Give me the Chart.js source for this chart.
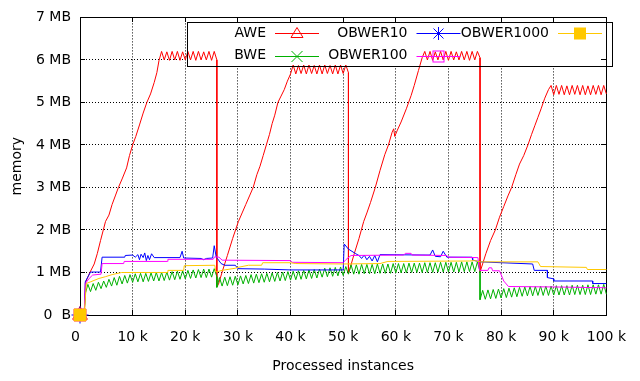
<!DOCTYPE html>
<html>
<head>
<meta charset="utf-8">
<script src="https://cdn.jsdelivr.net/npm/chart.js@4.4.0/dist/chart.umd.min.js"></script>
<style>
  html, body { margin: 0; padding: 0; background: #fff; }
</style>
</head>
<body>
<canvas id="myChart" width="640" height="381"></canvas>
<script>
// x in thousands of processed instances, y in MB
const seriesNames = ["AWE", "BWE", "OBWER10", "OBWER100", "OBWER1000"];
const xTicks = [0, 10, 20, 30, 40, 50, 60, 70, 80, 90, 100];
const yTicks = [0, 1, 2, 3, 4, 5, 6, 7];

const awe = [
  [0,0],[0.8,0],[1.1,0.78],[1.8,0.98],[2.7,1.2],[3.3,1.45],[3.9,1.75],[4.85,2.2],[5.5,2.35],[6.1,2.6],[6.7,2.8],[7.3,3.0],
  [8,3.2],[8.85,3.46],[9.4,3.75],[10,4.0],[10.6,4.2],[11.3,4.47],[12,4.75],[12.7,5.0],[13.4,5.2],[14.1,5.47],[14.6,5.7],[15,5.98],
  [15.5,6.2],[16,6.0],[16.5,6.19],[17,5.99],[17.5,6.2],[18,6.0],[18.5,6.2],[19,5.99],[19.5,6.19],[20,6.0],[20.5,6.2],[21,6.0],
  [21.5,6.2],[22,5.99],[22.5,6.2],[23,6.0],[23.5,6.19],[24,6.0],[24.5,6.2],[25,5.99],[25.5,6.2],[26,6.0],
  [26,0.66],[26.3,0.72],[27.1,1.05],[28,1.4],[29,1.8],[30.1,2.2],[30.8,2.4],[31.5,2.6],[32.2,2.8],[32.9,3.0],[33.6,3.3],[34.2,3.5],
  [34.8,3.75],[35.4,4.0],[36,4.25],[36.5,4.5],[37,4.7],[37.6,5.0],[38.2,5.15],[38.8,5.3],[39.4,5.5],[40,5.67],
  [40.5,5.88],[41,5.67],[41.5,5.87],[42,5.68],[42.5,5.88],[43,5.67],[43.5,5.88],[44,5.68],[44.5,5.87],[45,5.67],[45.5,5.88],[46,5.67],
  [46.5,5.88],[47,5.68],[47.5,5.87],[48,5.67],[48.5,5.88],[49,5.67],[49.5,5.88],[50,5.68],[50.5,5.88],[51,5.7],
  [51,0.98],[51.3,1.1],[52.1,1.44],[53,1.8],[53.9,2.2],[54.5,2.4],[55.2,2.65],[56.1,3.0],[57,3.4],[57.9,3.77],[58.6,4.0],[59.3,4.3],
  [59.6,4.38],[59.8,4.2],[60.3,4.35],[61,4.54],[62,4.85],[62.9,5.16],[63.5,5.4],[64.3,5.75],[65,6.05],
  [65.5,6.2],[66,6.0],[66.5,6.2],[67,5.99],[67.5,6.19],[68,6.0],[68.5,6.2],[69,6.0],[69.5,6.2],[70,5.99],[70.5,6.2],[71,6.0],
  [71.5,6.19],[72,6.0],[72.5,6.2],[73,6.0],[73.5,6.2],[74,5.99],[74.5,6.2],[75,6.0],[75.5,6.2],[76,6.05],
  [76,1.01],[77.1,1.44],[78,1.75],[78.9,2.0],[79.7,2.3],[80.5,2.55],[81.3,2.8],[82,3.0],[82.8,3.3],[83.5,3.55],[84.3,3.75],
  [85.1,4.0],[85.8,4.25],[86.4,4.45],[87,4.65],[87.6,4.85],[88.3,5.1],[89,5.3],
  [89.5,5.4],[90,5.18],[90.5,5.4],[91,5.19],[91.5,5.4],[92,5.18],[92.5,5.39],[93,5.18],[93.5,5.4],[94,5.19],[94.5,5.4],[95,5.18],
  [95.5,5.4],[96,5.18],[96.5,5.39],[97,5.18],[97.5,5.4],[98,5.19],[98.5,5.4],[99,5.18],[99.5,5.4],[100,5.2]
];

const bwe = [
  [0,0],[0.8,0],[1,0.5],[1.5,0.72],[2,0.55],[2.5,0.74],[3,0.58],[3.5,0.77],[4,0.62],[4.5,0.8],[5,0.65],[5.5,0.84],[6,0.68],
  [6.5,0.88],[7,0.7],[7.5,0.91],[8,0.73],[8.5,0.93],[9,0.75],[9.5,0.95],[10,0.77],[10.5,0.97],[11,0.78],[11.5,0.98],[12,0.78],
  [12.5,0.98],[13,0.79],[13.5,0.99],[14,0.8],[14.5,1.0],[15,0.8],[15.5,1.0],[16,0.81],[16.5,1.01],[17,0.82],[17.5,1.02],[18,0.83],
  [18.5,1.03],[19,0.84],[19.5,1.04],[20,0.85],[20.5,1.05],[21,0.86],[21.5,1.06],[22,0.87],[22.5,1.07],[23,0.88],[23.5,1.08],
  [24,0.88],[24.5,1.08],[25,0.89],[25.5,1.09],[26,0.9],
  [26,0.65],[26.5,0.88],[27,0.68],[27.5,0.89],[28,0.69],[28.5,0.9],[29,0.7],[29.5,0.91],[30,0.71],[30.5,0.92],[31,0.73],[31.5,0.93],
  [32,0.74],[32.5,0.95],[33,0.75],[33.5,0.96],[34,0.76],[34.5,0.97],[35,0.77],[35.5,0.98],[36,0.78],[36.5,0.99],[37,0.79],[37.5,1.0],
  [38,0.8],[38.5,1.01],[39,0.81],[39.5,1.02],[40,0.82],[40.5,1.03],[41,0.83],[41.5,1.04],[42,0.84],[42.5,1.05],[43,0.85],[43.5,1.06],
  [44,0.86],[44.5,1.07],[45,0.87],[45.5,1.08],[46,0.89],[46.5,1.1],[47,0.9],[47.5,1.11],[48,0.91],[48.5,1.12],[49,0.92],[49.5,1.13],
  [50,0.93],[50.5,1.14],[51,0.96],[51.5,1.18],[52,0.96],[52.5,1.18],[53,0.96],[53.5,1.19],[54,0.97],[54.5,1.19],[55,0.97],[55.5,1.19],
  [56,0.97],[56.5,1.2],[57,0.98],[57.5,1.2],[58,0.98],[58.5,1.2],[59,0.98],[59.5,1.21],[60,0.99],[60.5,1.21],[61,0.99],[61.5,1.21],
  [62,0.99],[62.5,1.22],[63,1.0],[63.5,1.22],[64,1.0],[64.5,1.22],[65,1.0],[65.5,1.23],[66,1.0],[66.5,1.23],[67,1.0],[67.5,1.23],
  [68,1.01],[68.5,1.24],[69,1.01],[69.5,1.24],[70,1.01],[70.5,1.24],[71,1.01],[71.5,1.24],[72,1.01],[72.5,1.25],[73,1.02],[73.5,1.25],
  [74,1.02],[74.5,1.25],[75,1.02],[75.5,1.25],[76,1.02],
  [76,0.36],[76.5,0.58],[77,0.37],[77.5,0.59],[78,0.38],[78.5,0.6],[79,0.39],[79.5,0.61],[80,0.4],[80.5,0.62],[81,0.41],[81.5,0.63],
  [82,0.42],[82.5,0.64],[83,0.43],[83.5,0.65],[84,0.44],[84.5,0.66],[85,0.45],[85.5,0.67],[86,0.45],[86.5,0.67],[87,0.46],[87.5,0.68],
  [88,0.46],[88.5,0.68],[89,0.46],[89.5,0.68],[90,0.47],[90.5,0.69],[91,0.47],[91.5,0.69],[92,0.47],[92.5,0.69],[93,0.47],[93.5,0.7],
  [94,0.48],[94.5,0.7],[95,0.48],[95.5,0.7],[96,0.48],[96.5,0.71],[97,0.48],[97.5,0.71],[98,0.49],[98.5,0.71],[99,0.49],[99.5,0.72],[100,0.49]
];

const obwer10 = [
  [0,0],[0.8,0],[1,0.78],[2,1.01],[3.9,1.01],[4.2,1.36],[8.5,1.36],[8.6,1.4],[10,1.41],[10.5,1.36],[11,1.42],[11.3,1.3],[11.6,1.43],
  [12,1.35],[12.3,1.46],[12.6,1.28],[12.9,1.4],[13.2,1.3],[13.6,1.44],[14.1,1.35],[19,1.35],[19.4,1.5],[19.7,1.34],[23,1.33],
  [23.5,1.3],[24,1.33],[25.2,1.34],[25.5,1.63],[25.9,1.35],[26.1,1.33],[26.8,1.21],[27.5,1.17],[29.5,1.17],[30,1.09],[35,1.08],
  [40,1.06],[50,1.06],[50.2,1.67],[51,1.55],[52.4,1.44],[53,1.4],[53.5,1.33],[54,1.41],[54.5,1.3],[55,1.38],[55.5,1.27],[56,1.4],
  [56.5,1.25],[57,1.42],[66.5,1.41],[67,1.53],[67.5,1.38],[68.5,1.37],[69,1.5],[69.7,1.36],[74.5,1.36],[74.6,1.29],[76,1.25],
  [80,1.23],[86,1.2],[86.3,1.05],[88.8,1.05],[88.8,0.88],[90,0.85],[90,0.8],[97.4,0.8],[97.4,0.74],[100,0.74]
];

const obwer100 = [
  [0,0],[0.8,0],[1,0.74],[1.75,0.86],[2.4,0.94],[4,0.96],[4.2,1.21],[8.3,1.21],[8.4,1.26],[16.6,1.26],[16.7,1.31],[25.3,1.31],
  [25.6,1.37],[26.4,1.36],[27,1.29],[40,1.28],[40.3,1.24],[50,1.23],[50.5,1.3],[51.5,1.4],[61.5,1.41],[61.8,1.45],[62.9,1.45],
  [63.1,1.41],[69.7,1.4],[70,1.36],[75.6,1.35],[75.9,1.05],[77.5,1.05],[77.7,1.11],[78.2,1.11],[78.4,1.04],[79.7,1.04],[80.5,0.8],
  [81.4,0.67],[90,0.66],[100,0.64]
];

const obwer1000 = [
  [0,0],[0.8,0],[1.2,0.74],[2,0.78],[3.6,0.86],[4.8,0.9],[6.1,0.95],[7.9,1.0],[16.6,1.0],[16.7,1.05],[19.7,1.05],[19.8,1.16],
  [25.6,1.17],[25.8,1.01],[27,1.05],[29.5,1.1],[30,1.12],[32,1.17],[34.5,1.17],[34.7,1.23],[40,1.23],[41,1.21],[50,1.2],[57,1.21],
  [58.5,1.26],[74,1.27],[75,1.28],[76,1.25],[87,1.25],[87.5,1.14],[96.2,1.12],[96.4,1.07],[100,1.07]
];

const FONT = { family: "'DejaVu Sans', sans-serif", size: 14 };
const colors = ["#ff0000", "#00b000", "#0000ff", "#ff00ff", "#ffc800"];
const marks = ["triangle", "crossRot", "star", "rectOpen", "rect"];
// legend slots: [column, row]
const keySlots = [[0, 0], [0, 1], [1, 0], [1, 1], [2, 0]];

const toPoints = (arr) => arr.map((p) => ({ x: p[0], y: p[1] }));
const allData = [awe, bwe, obwer10, obwer100, obwer1000];

const datasets = seriesNames.map((name, i) => ({
  label: name,
  data: toPoints(allData[i]),
  borderColor: colors[i],
  backgroundColor: colors[i],
  borderWidth: 1,
  pointStyle: marks[i] === "rectOpen" ? "rect" : marks[i],
  pointBackgroundColor: (marks[i] === "rect") ? colors[i] : "rgba(0,0,0,0)",
  pointBorderColor: colors[i],
  pointBorderWidth: 1,
  pointRadius: (c) => (c.dataIndex === 0 ? 8.5 : 0),
  pointHoverRadius: 0,
  tension: 0,
  clip: false,
  order: 5 - i,
}));

function drawMark(ctx, kind, x, y, color) {
  ctx.save();
  ctx.strokeStyle = color;
  ctx.fillStyle = color;
  ctx.lineWidth = 1;
  ctx.beginPath();
  if (kind === "triangle") {
    ctx.moveTo(x, y - 6);
    ctx.lineTo(x - 6, y + 4);
    ctx.lineTo(x + 6, y + 4);
    ctx.closePath();
    ctx.stroke();
  } else if (kind === "crossRot") {
    ctx.moveTo(x - 5.5, y - 5.5); ctx.lineTo(x + 5.5, y + 5.5);
    ctx.moveTo(x + 5.5, y - 5.5); ctx.lineTo(x - 5.5, y + 5.5);
    ctx.stroke();
  } else if (kind === "star") {
    ctx.moveTo(x - 6.5, y); ctx.lineTo(x + 6.5, y);
    ctx.moveTo(x, y - 6.5); ctx.lineTo(x, y + 6.5);
    ctx.moveTo(x - 5, y - 5); ctx.lineTo(x + 5, y + 5);
    ctx.moveTo(x + 5, y - 5); ctx.lineTo(x - 5, y + 5);
    ctx.stroke();
  } else if (kind === "rectOpen") {
    ctx.strokeRect(x - 5.5, y - 5.5, 11, 11);
  } else {
    ctx.fillRect(x - 6, y - 6, 12, 12);
  }
  ctx.restore();
}

const KEY = { left: 187, top: 22, right: 612, bottom: 66 };

const gnuplotFrame = {
  id: "gnuplotFrame",
  beforeDatasetsDraw(chart) {
    const { ctx, chartArea: a, scales } = chart;
    ctx.save();
    const top = Math.round(a.top), bottom = Math.round(a.bottom);
    const left = Math.round(a.left), right = Math.round(a.right);
    // key box background hides the grid
    ctx.fillStyle = "#fff";
    ctx.fillRect(KEY.left, KEY.top, KEY.right - KEY.left, KEY.bottom - KEY.top);
    // inward tick marks and border
    ctx.strokeStyle = "#000";
    ctx.lineWidth = 1;
    ctx.beginPath();
    xTicks.forEach((t) => {
      const px = Math.round(scales.x.getPixelForValue(t) - 0.5) + 0.5;
      ctx.moveTo(px, bottom); ctx.lineTo(px, bottom - 5);
      ctx.moveTo(px, top); ctx.lineTo(px, top + 5);
    });
    yTicks.forEach((t) => {
      const py = Math.round(scales.y.getPixelForValue(t) - 0.5) + 0.5;
      ctx.moveTo(left, py); ctx.lineTo(left + 5, py);
      ctx.moveTo(right, py); ctx.lineTo(right - 5, py);
    });
    ctx.stroke();
    ctx.strokeRect(left + 0.5, top + 0.5, right - left, bottom - top);
    ctx.restore();
  },
  afterDatasetsDraw(chart) {
    const { ctx } = chart;
    ctx.save();
    ctx.strokeStyle = "#000";
    ctx.lineWidth = 1;
    ctx.strokeRect(KEY.left + 0.5, KEY.top + 0.5, KEY.right - KEY.left, KEY.bottom - KEY.top);
    ctx.font = FONT.size + "px " + FONT.family;
    ctx.fillStyle = "#000";
    ctx.textAlign = "right";
    ctx.textBaseline = "middle";
    chart.data.datasets.forEach((ds, i) => {
      const [col, row] = keySlots[i];
      const textRight = 266 + col * 141.5;
      const y = row === 0 ? 33 : 55.5;
      ctx.fillText(ds.label, textRight, y);
      const x0 = textRight + 9, x1 = textRight + 53;
      ctx.strokeStyle = colors[i];
      ctx.beginPath();
      ctx.moveTo(x0, Math.round(y) + 0.5);
      ctx.lineTo(x1, Math.round(y) + 0.5);
      ctx.stroke();
      drawMark(ctx, marks[i], (x0 + x1) / 2, Math.round(y) + 0.5, colors[i]);
    });
    ctx.restore();
  },
};

new Chart("myChart", {
  type: "line",
  data: { datasets: datasets },
  options: {
    responsive: false,
    animation: false,
    devicePixelRatio: 1,
    layout: { padding: { left: 0, right: 6, top: 14, bottom: 0 } },
    plugins: { legend: { display: false }, tooltip: { enabled: false } },
    scales: {
      x: {
        type: "linear",
        min: 0,
        max: 100,
        afterBuildTicks: (s) => { s.ticks = xTicks.map((v) => ({ value: v })); },
        afterFit: (s) => { s.height = 66; },
        ticks: {
          autoSkip: false,
          maxRotation: 0,
          padding: 14,
          color: "#000",
          font: FONT,
          callback: (v) => (v === 0 ? "0  " : v + " k"),
        },
        grid: { color: "#000", lineWidth: 1, drawTicks: false },
        border: { display: false, dash: [1, 2] },
        title: { display: true, text: "Processed instances", color: "#000", font: FONT, padding: { top: 0, bottom: 6 } },
      },
      y: {
        type: "linear",
        min: 0,
        max: 7,
        afterBuildTicks: (s) => { s.ticks = yTicks.map((v) => ({ value: v })); },
        afterFit: (s) => { s.width = 80; },
        ticks: {
          padding: 9,
          color: "#000",
          font: FONT,
          callback: (v) => (v === 0 ? "0  B" : v + " MB"),
        },
        grid: { color: "#000", lineWidth: 1, drawTicks: false },
        border: { display: false, dash: [1, 2] },
        title: { display: true, text: "memory", color: "#000", font: FONT, padding: { top: 9, bottom: 0 } },
      },
    },
  },
  plugins: [gnuplotFrame],
});
</script>
</body>
</html>
